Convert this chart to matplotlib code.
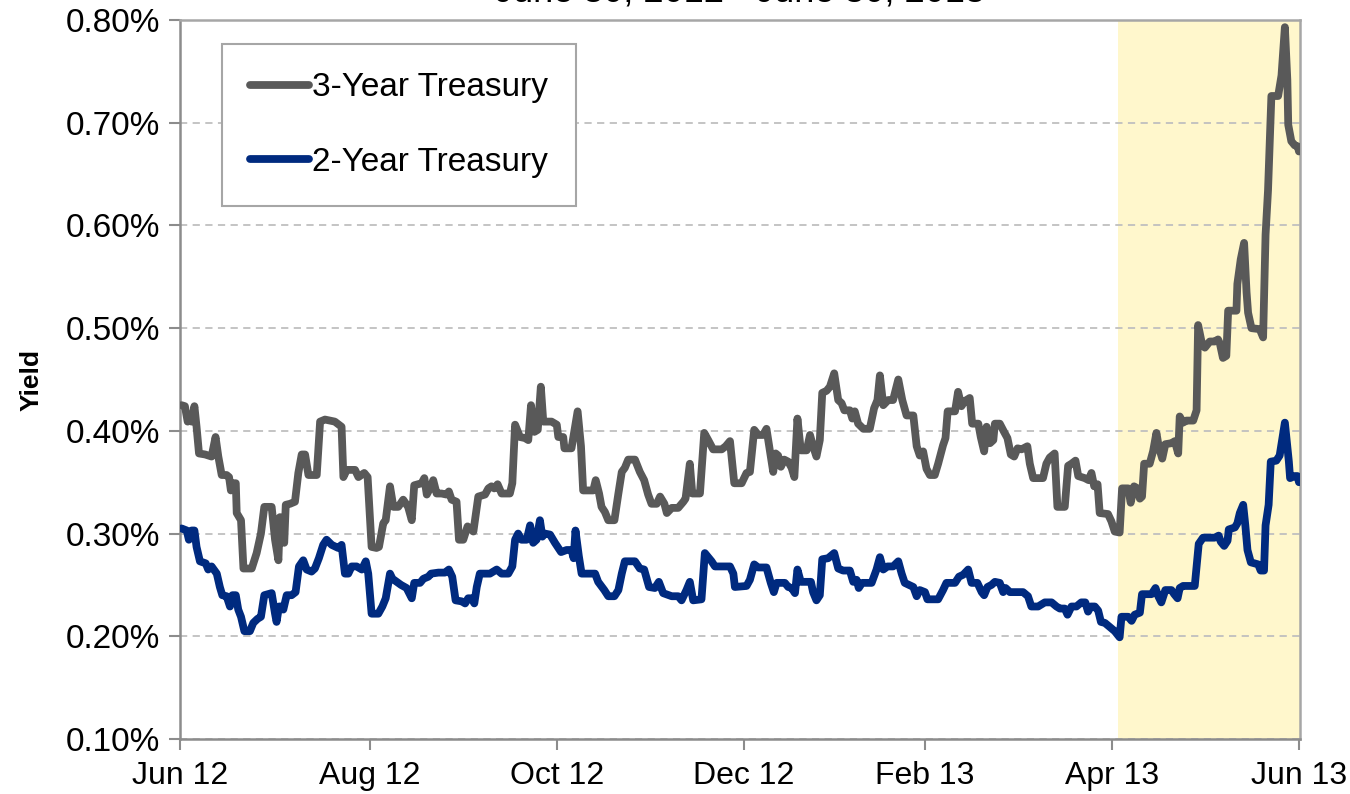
import numpy as np
import pandas as pd
import matplotlib
matplotlib.use("Agg")
import matplotlib.pyplot as plt
import matplotlib.dates as mdates
from matplotlib.ticker import FuncFormatter, MultipleLocator

plt.rcParams["font.family"] = ["Liberation Sans", "DejaVu Sans"]

start = pd.Timestamp("2012-06-30")
end = pd.Timestamp("2013-06-30")
shade_start = pd.Timestamp("2013-05-02")

# days after 30 Jun 2012, yield in %
t3_day = [0.5, 1.6, 2.5, 3.3, 3.8, 4.7, 5.4, 6.2, 8.2, 10.3, 11.6, 12.5, 13.6, 15.2, 16.0, 16.6,
          17.4, 18.2, 18.5, 19.9, 20.7, 23.4, 25.0, 26.4, 27.5, 29.9, 31.0, 32.1, 32.6, 33.2, 34.0,
          34.5, 35.9, 37.5, 38.6, 39.7, 40.8, 41.9, 44.6, 45.7, 47.3, 50.5, 52.7, 53.3, 54.4, 57.1,
          58.2, 60.1, 61.2, 62.5, 64.1, 64.9, 66.3, 67.1, 68.5, 69.6, 71.2, 72.8, 74.4, 75.6, 76.4,
          78.8, 79.7, 80.5, 81.9, 82.6, 83.7, 85.3, 86.9, 87.7, 88.6, 90.2, 91.0, 92.4, 93.8, 95.7,
          97.3, 99.5, 100.6, 101.6, 102.5, 103.6, 104.9, 107.6, 108.4, 109.3, 110.9, 112.5, 113.6,
          114.5, 115.6, 116.7, 117.7, 118.5, 121.2, 122.9, 123.4, 125.0, 125.4, 127.7, 129.7, 130.8,
          131.5, 134.8, 135.6, 136.7, 137.5, 138.6, 139.7, 141.7, 143.0, 144.1, 145.1, 146.2, 148.4,
          150.0, 151.4, 152.7, 153.8, 155.5, 156.6, 158.0, 158.8, 160.4, 162.5, 164.2, 164.9, 166.3,
          167.1, 169.6, 171.0, 172.3, 173.9, 176.7, 178.0, 179.4, 180.8, 183.2, 184.8, 185.9, 187.3,
          188.6, 190.2, 191.3, 192.4, 193.5, 194.3, 195.1, 196.0, 197.1, 198.4, 199.5, 200.4, 201.4,
          202.5, 204.4, 205.5, 206.5, 207.6, 208.7, 209.5, 210.9, 212.0, 213.4, 214.7, 215.8, 216.7,
          218.5, 219.3, 220.1, 221.2, 222.9, 225.0, 226.4, 227.5, 228.3, 229.4, 231.0, 232.6, 234.3,
          235.6, 237.0, 239.2, 240.3, 241.3, 242.4, 243.5, 244.6, 246.2, 247.3, 248.9, 249.7, 250.4,
          252.8, 253.8, 254.9, 256.0, 257.6, 258.4, 260.4, 261.2, 262.3, 263.1, 264.2, 265.3, 265.8,
          267.4, 268.8, 269.9, 271.0, 272.1, 273.2, 274.5, 276.4, 277.2, 278.3, 281.5, 282.6, 283.7,
          285.3, 286.2, 288.6, 289.7, 290.8, 292.1, 293.0, 295.1, 296.4, 297.3, 298.2, 299.3, 300.0,
          302.7, 303.8, 304.9, 306.5, 307.3, 309.3, 310.1, 311.2, 312.3, 313.1, 313.8, 314.5, 316.3,
          317.4, 318.5, 319.3, 320.4, 321.4, 323.4, 324.5, 325.6, 326.1, 327.2, 328.3, 330.5, 331.6,
          332.1, 333.2, 334.3, 335.9, 337.5, 338.6, 339.2, 340.2, 341.3, 341.9, 344.6, 344.9, 346.0,
          347.1, 347.9, 348.4, 349.5, 352.2, 353.3, 354.1, 354.9, 356.0, 358.2, 359.3, 360.4, 361.2,
          361.5, 362.5, 363.6, 364.6, 365.0]
t3_yield = [.425, .424, .409, .414, .409, .424, .404, .378, .377, .375, .394, .375, .357, .357, .355, .342,
            .349, .349, .320, .313, .266, .266, .281, .300, .326, .326, .294, .274, .316, .294, .291,
            .328, .329, .331, .359, .377, .377, .357, .357, .409, .411, .409, .404, .355, .362, .362,
            .355, .359, .355, .287, .286, .287, .310, .313, .346, .326, .326, .333, .326, .313, .347,
            .349, .354, .338, .346, .352, .339, .339, .338, .341, .333, .331, .294, .294, .307, .302,
            .336, .338, .344, .346, .344, .348, .339, .339, .349, .406, .394, .393, .391,
            .425, .399, .401, .443, .409, .409, .406, .394, .394, .383, .383, .419, .385,
            .342, .342, .352, .339, .326, .321, .313, .313, .339, .360, .364, .372, .372,
            .360, .352, .338, .329, .329, .336, .329, .320, .325, .325, .331, .334, .368,
            .339, .339, .398, .391, .382, .382, .385, .390, .349, .349, .359, .360, .401,
            .396, .396, .402, .381, .360, .378, .376, .365, .372, .370, .364, .355, .412,
            .381, .381, .396, .385, .375, .391, .437, .439, .443, .456, .430, .427, .420,
            .420, .412, .419, .407, .402, .402, .422, .430, .454, .425, .430, .430, .450,
            .430, .415, .415, .385, .376, .380, .363, .357, .357, .368, .386, .393, .419,
            .419, .438, .424, .429, .432, .407, .407, .394, .380, .404, .388, .391, .407,
            .407, .399, .393, .377, .375, .383, .382, .385, .368, .354, .354, .368, .374,
            .378, .326, .326, .366, .368, .371, .356, .354, .352, .359, .346, .348, .320,
            .319, .312, .302, .301, .344, .344, .330, .346, .344, .334, .336, .368, .368,
            .380, .398, .384, .373, .387, .388, .390, .378, .414, .408, .410, .410, .420,
            .503, .487, .481, .487, .487, .489, .485, .471, .473, .517, .517, .543, .567,
            .583, .535, .515, .500, .499, .491, .591, .634, .726, .726, .746, .793, .742,
            .698, .682, .678, .677, .672]

t2_day = [0.5, 2.2, 2.9, 3.8, 4.7, 5.4, 6.5, 8.4, 9.2, 10.3, 12.0, 13.0, 13.8, 15.2, 16.3, 17.1,
          18.2, 19.0, 19.9, 21.0, 22.8, 23.9, 25.3, 26.4, 27.5, 29.9, 31.0, 31.5, 32.3, 33.2, 33.7,
          34.8, 36.4, 37.7, 38.8, 40.2, 41.3, 42.9, 44.0, 45.3, 46.7, 47.8, 49.5, 51.6, 52.7, 53.8,
          54.9, 56.0, 57.6, 59.3, 60.6, 61.4, 62.5, 64.7, 66.0, 67.1, 68.5, 69.3, 70.7, 72.1, 73.9,
          75.6, 76.4, 78.3, 79.4, 81.0, 81.9, 84.3, 86.4, 87.7, 88.8, 89.9, 91.9, 93.0, 94.0, 95.1,
          96.0, 96.8, 97.8, 101.1, 103.3, 104.9, 107.1, 108.4, 109.3, 110.3, 111.4, 113.1, 114.2,
          115.2, 116.3, 117.4, 118.2, 119.0, 120.7, 122.3, 123.4, 124.3, 126.1, 127.7, 128.4, 129.0,
          130.1, 131.0, 135.4, 136.4, 138.4, 139.7, 141.7, 143.0, 144.1, 145.1, 148.4, 150.0, 151.4,
          153.0, 154.9, 156.2, 157.6, 160.4, 162.5, 163.6, 165.2, 166.3, 167.4, 170.1, 171.2, 173.4,
          174.5, 179.4, 180.5, 181.0, 184.8, 185.9, 187.3, 188.6, 191.3, 192.7, 193.7, 194.6, 197.3,
          198.4, 199.5, 200.6, 201.4, 202.5, 205.8, 206.5, 207.6, 208.7, 209.5, 211.4, 213.4, 214.7,
          216.3, 218.5, 219.6, 220.7, 221.4, 222.5, 225.6, 227.2, 228.3, 229.4, 230.8, 232.6, 234.3,
          235.4, 236.4, 239.2, 240.3, 241.3, 243.0, 243.8, 247.3, 248.9, 250.0, 252.8, 254.1, 255.5,
          257.1, 258.2, 260.1, 261.5, 262.3, 263.4, 264.7, 265.8, 267.4, 268.5, 269.3, 270.7, 275.0,
          276.6, 277.7, 279.9, 282.1, 284.3, 285.9, 287.0, 288.6, 289.5, 290.8, 292.4, 294.0, 295.3,
          296.2, 297.1, 298.4, 299.5, 300.4, 301.7, 303.3, 304.9, 306.5, 307.1, 309.3, 310.4, 311.4,
          313.1, 313.8, 316.9, 318.2, 319.1, 320.1, 321.4, 323.4, 324.3, 325.4, 326.1, 327.2, 331.0,
          332.3, 333.7, 337.5, 338.8, 339.5, 340.6, 341.7, 342.1, 344.1, 344.9, 345.7, 346.8, 347.5,
          348.2, 349.3, 351.7, 352.5, 353.6, 354.1, 355.1, 355.8, 357.6, 358.7, 360.4, 361.7, 362.1,
          363.6, 364.5, 365.0]
t2_yield = [.305, .303, .294, .303, .303, .287, .273, .271, .265, .268, .261, .248, .240, .239, .229, .240,
            .240, .226, .219, .205, .205, .213, .217, .219, .240, .242, .222, .214, .229, .229, .226,
            .240, .240, .243, .268, .274, .265, .263, .266, .276, .289, .294, .289, .286, .289, .261,
            .261, .268, .268, .265, .273, .261, .222, .222, .229, .237, .261, .256, .253, .250, .247,
            .237, .252, .252, .256, .258, .261, .262, .262, .265, .258, .235, .234, .232, .237, .237,
            .232, .248, .261, .261, .265, .261, .261, .268, .294, .300, .294, .294, .308,
            .291, .294, .313, .297, .300, .299, .291, .286, .282, .284, .284, .276, .303,
            .278, .261, .261, .253, .245, .239, .239, .245, .261, .273, .273, .266, .265,
            .248, .247, .253, .242, .239, .239, .235, .245, .253, .235, .236, .281, .273,
            .268, .268, .261, .248, .249, .255, .270, .267, .267, .252, .243, .252, .252,
            .248, .247, .242, .265, .253, .253, .243, .235, .240, .275, .276, .281, .266,
            .264, .264, .253, .255, .247, .252, .252, .265, .277, .265, .268, .268, .273,
            .261, .252, .248, .239, .245, .243, .236, .236, .245, .252, .252, .258, .260,
            .265, .252, .252, .243, .240, .248, .250, .253, .252, .243, .247, .243, .243,
            .239, .229, .229, .233, .233, .229, .227, .227, .221, .229, .229, .233, .233,
            .224, .229, .229, .225, .214, .213, .209, .205, .199, .219, .219, .215, .221,
            .223, .241, .241, .247, .239, .233, .245, .245, .241, .237, .247, .249, .249,
            .290, .296, .296, .298, .292, .288, .293, .304, .306, .310, .320, .328, .308,
            .284, .272, .270, .264, .264, .308, .328, .370, .371, .376, .408, .370, .354,
            .356, .356, .350]

tick_dates = ["2012-06-30", "2012-08-31", "2012-10-31", "2012-12-31",
              "2013-02-28", "2013-04-30", "2013-06-30"]
tick_labels = ["Jun 12", "Aug 12", "Oct 12", "Dec 12", "Feb 13", "Apr 13", "Jun 13"]

t3_dates = start + pd.to_timedelta(t3_day, unit="D")
t2_dates = start + pd.to_timedelta(t2_day, unit="D")

fig = plt.figure(figsize=(13.5, 7.94), dpi=100)
ax = fig.add_axes([180 / 1350, 1 - 739 / 794, 1120 / 1350, 719 / 794])

ax.axvspan(shade_start, end + pd.Timedelta(days=1), color="#FFF7CC", zorder=0, lw=0)

ax.plot(t3_dates, t3_yield, color="#595959", lw=5.6, solid_joinstyle="round",
        solid_capstyle="round", label="3-Year Treasury", zorder=3)
ax.plot(t2_dates, t2_yield, color="#002A7F", lw=5.6, solid_joinstyle="round",
        solid_capstyle="round", label="2-Year Treasury", zorder=3)

ax.set_xlim(start, end + pd.Timedelta(hours=8))
ax.set_ylim(0.10, 0.80)
ax.yaxis.set_major_locator(MultipleLocator(0.10))
ax.yaxis.set_major_formatter(FuncFormatter(lambda v, p: f"{v:.2f}%"))
ax.set_xticks(pd.to_datetime(tick_dates))
ax.set_xticklabels(tick_labels)

ax.grid(axis="y", color="#BFBFBF", ls=(0, (4, 3)), lw=1.3, zorder=1)
ax.set_axisbelow(True)
for s in ax.spines.values():
    s.set_color("#A6A6A6")
    s.set_linewidth(1.8)
ax.spines["left"].set_color("#8C8C8C")
ax.spines["bottom"].set_color("#8C8C8C")
ax.tick_params(axis="both", colors="#8C8C8C", labelcolor="black",
               length=8, width=1.5, direction="out")
ax.tick_params(axis="x", pad=8, labelsize=23)
ax.tick_params(axis="y", pad=6, labelsize=24)

ax.set_ylabel("Yield", fontsize=19, fontweight="bold", labelpad=16)

leg = ax.legend(loc="upper left", bbox_to_anchor=(0.0375, 0.9666), borderaxespad=0,
                fontsize=24, handlelength=1.75, handletextpad=0.1, labelspacing=1.3,
                borderpad=0.85, fancybox=False, framealpha=1, edgecolor="#A6A6A6")
leg.get_frame().set_linewidth(1.5)
for h in leg.get_lines():
    h.set_solid_capstyle("round")

# heading sits mostly above the top edge of the canvas
fig.text((180 + 1300) / 2 / 1350, 1 - 1 / 794, "June 30, 2012 - June 30, 2013",
         ha="center", va="baseline", fontsize=26)

fig.savefig("out.png", dpi=100)
